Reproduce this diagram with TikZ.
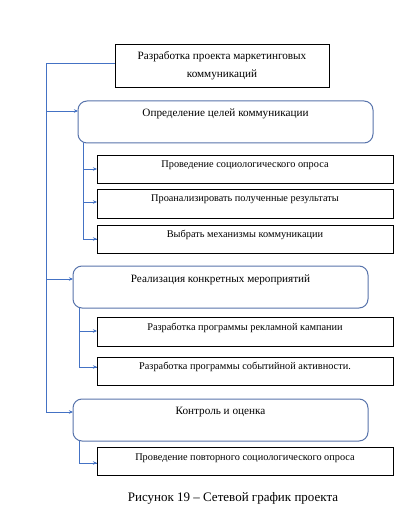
\documentclass[tikz,border=0pt]{standalone}
\usepackage{fontspec}
\setmainfont{Liberation Serif}
\usetikzlibrary{arrows.meta}
\definecolor{conn}{HTML}{4472C4}
\definecolor{rbord}{HTML}{5874AC}
\tikzset{
  sqbox/.style={draw=black, line width=0.9pt},
  rbox/.style={draw=rbord, line width=1pt, rounded corners=9pt},
  lbl/.style={font=\fontsize{11.2}{13}\selectfont, anchor=base, inner sep=0pt},
  slbl/.style={lbl, font=\fontsize{10.3}{12}\selectfont},
  wire/.style={draw=conn, line width=0.8pt},
  arr/.style={wire, -{Stealth[length=4pt,width=3.5pt]}},
}
\begin{document}
\begin{tikzpicture}[x=1pt,y=-1pt]
\useasboundingbox (0,0) rectangle (419,526);
\fill[white] (0,0) rectangle (419,526);
% boxes
\draw[sqbox] (115,44) rectangle (329,87);
\node[coordinate] (top) at (115,63) {};
\draw[rbox] (78,101) rectangle (373,143);
\node[coordinate] (r1) at (78,111) {};
\draw[rbox] (73,266) rectangle (368,308);
\node[coordinate] (r2) at (73,279) {};
\draw[rbox] (73,399) rectangle (368,441);
\node[coordinate] (r3) at (73,412) {};
\draw[sqbox] (97,155) rectangle (393,183);
\draw[sqbox] (97,189) rectangle (393,218);
\draw[sqbox] (97,225) rectangle (393,253);
\draw[sqbox] (97,317) rectangle (393,346);
\draw[sqbox] (97,357) rectangle (393,385);
\draw[sqbox] (97,447) rectangle (393,475);
% texts
\node[lbl] (t0a) at (222,59.5) {Разработка проекта маркетинговых};
\node[lbl] (t0b) at (222,77.5) {коммуникаций};
\node[lbl] (t1) at (225.5,116.5) {Определение целей коммуникации};
\node[slbl] (s1) at (245,168) {Проведение социологического опроса};
\node[slbl] (s2) at (245,202) {Проанализировать полученные результаты};
\node[slbl] (s3) at (245,237) {Выбрать механизмы коммуникации};
\node[lbl] (t2) at (220.5,282.5) {Реализация конкретных мероприятий};
\node[slbl] (s4) at (245,330) {Разработка программы рекламной кампании};
\node[slbl] (s5) at (245,369) {Разработка программы событийной активности.};
\node[lbl] (t3) at (220.5,414.5) {Контроль и оценка};
\node[slbl] (s6) at (245,460) {Проведение повторного социологического опроса};
\node[lbl, font=\fontsize{13}{15}\selectfont] (cap) at (233,501.5) {Рисунок 19 – Сетевой график проекта};
% anchors for sub boxes
\node[coordinate] (a1) at (97,169) {};
\node[coordinate] (a2) at (97,202) {};
\node[coordinate] (a3) at (97,239) {};
\node[coordinate] (a4) at (97,331) {};
\node[coordinate] (a5) at (97,367) {};
\node[coordinate] (a6) at (97,463) {};
\node[coordinate] (b1) at (83,143) {};
\node[coordinate] (b2) at (79,308) {};
\node[coordinate] (b3) at (79,441) {};
% main spine
\draw[wire] (top) -| (46,412);
\draw[arr] (46,412) -- (r3);
\draw[arr] (46,111) -- (r1);
\draw[arr] (46,279) -- (r2);
% sub branches
\draw[wire] (b1) |- (a3);
\draw[arr] (83,169) -- (a1);
\draw[arr] (83,202) -- (a2);
\draw[arr] (83,239) -- (a3);
\draw[wire] (b2) |- (a5);
\draw[arr] (79,331) -- (a4);
\draw[arr] (79,367) -- (a5);
\draw[wire] (b3) |- (a6);
\draw[arr] (79,463) -- (a6);
\end{tikzpicture}
\end{document}
